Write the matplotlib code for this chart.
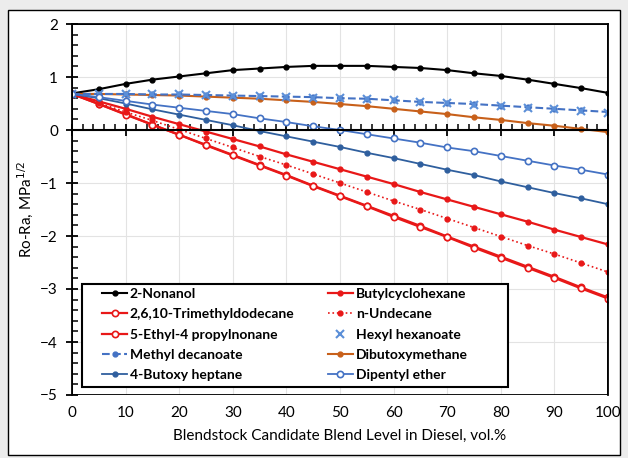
import matplotlib
matplotlib.use("Agg")
import matplotlib.pyplot as plt
from matplotlib.patches import Rectangle
from matplotlib.ticker import MultipleLocator

plt.rcParams['font.family'] = ['Lato', 'DejaVu Sans']

# Blend level, vol.%
blend = [0, 5, 10, 15, 20, 25, 30, 35, 40, 45, 50,
         55, 60, 65, 70, 75, 80, 85, 90, 95, 100]

nonanol = [0.69, 0.77, 0.87, 0.95, 1.01, 1.07, 1.13, 1.16, 1.19, 1.21, 1.21,
           1.21, 1.19, 1.17, 1.13, 1.07, 1.02, 0.95, 0.87, 0.79, 0.70]
butylcyclohexane = [0.68, 0.54, 0.40, 0.25, 0.11, -0.03, -0.17, -0.31, -0.46, -0.60, -0.74,
                    -0.88, -1.02, -1.17, -1.31, -1.45, -1.59, -1.73, -1.88, -2.02, -2.16]
trimethyldodecane = [0.68, 0.49, 0.30, 0.10, -0.09, -0.28, -0.47, -0.66, -0.85, -1.05, -1.24,
                     -1.43, -1.62, -1.81, -2.01, -2.20, -2.39, -2.58, -2.77, -2.97, -3.16]
undecane = [0.68, 0.51, 0.34, 0.18, 0.01, -0.16, -0.33, -0.50, -0.66, -0.83, -1.00,
            -1.17, -1.34, -1.50, -1.67, -1.84, -2.01, -2.18, -2.34, -2.51, -2.68]
ethylpropylnonane = [0.68, 0.49, 0.29, 0.10, -0.09, -0.29, -0.48, -0.67, -0.86, -1.06, -1.25,
                     -1.44, -1.64, -1.83, -2.02, -2.22, -2.41, -2.60, -2.79, -2.99, -3.18]
hexyl_hexanoate = [0.68, 0.68, 0.68, 0.67, 0.67, 0.66, 0.65, 0.64, 0.63, 0.61, 0.60,
                   0.58, 0.56, 0.53, 0.51, 0.48, 0.45, 0.42, 0.39, 0.36, 0.33]
methyl_decanoate = [0.68, 0.68, 0.68, 0.67, 0.67, 0.66, 0.65, 0.64, 0.63, 0.62, 0.60,
                    0.59, 0.56, 0.53, 0.51, 0.49, 0.46, 0.43, 0.40, 0.37, 0.34]
dibutoxymethane = [0.68, 0.68, 0.67, 0.66, 0.65, 0.63, 0.61, 0.59, 0.56, 0.53, 0.49,
                   0.45, 0.40, 0.35, 0.30, 0.24, 0.19, 0.13, 0.08, 0.02, -0.04]
butoxy_heptane = [0.68, 0.60, 0.50, 0.39, 0.29, 0.19, 0.09, -0.02, -0.12, -0.22, -0.32,
                  -0.43, -0.53, -0.64, -0.75, -0.85, -0.97, -1.08, -1.19, -1.29, -1.40]
dipentyl_ether = [0.68, 0.62, 0.55, 0.48, 0.42, 0.36, 0.30, 0.22, 0.15, 0.07, 0.00,
                  -0.08, -0.16, -0.24, -0.33, -0.40, -0.49, -0.58, -0.67, -0.75, -0.84]

RED = '#e81818'
BLUE = '#4472c4'
DBLUE = '#2f5f9e'
ORANGE = '#c8601a'

fig = plt.figure(figsize=(6.28, 4.58), dpi=100, facecolor='#ececec')
# white chart area with black border
fig.patches.append(Rectangle((8 / 628, 3 / 458), 612 / 628, 445 / 458,
                             transform=fig.transFigure, facecolor='white',
                             edgecolor='black', linewidth=1.0, zorder=-10))

ax = fig.add_axes([72 / 628, 63 / 458, 536 / 628, 371 / 458])
ax.set_zorder(1)
ax.set_xlim(0, 100)
ax.set_ylim(-5, 2)
ax.grid(True, color='#e3e3e3', linewidth=0.8, zorder=0)
ax.set_axisbelow(True)

h = {}
h['2-Nonanol'], = ax.plot(blend, nonanol, '-o', color='black', lw=1.5, ms=3.5)
h['2,6,10-Trimethyldodecane'], = ax.plot(blend, trimethyldodecane, '-o', color=RED, lw=1.6,
                                         ms=4.5, mfc='white', mew=1.2)
h['5-Ethyl-4 propylnonane'], = ax.plot(blend, ethylpropylnonane, '-o', color=RED, lw=1.6,
                                       ms=4.5, mfc='white', mew=1.2)
h['Butylcyclohexane'], = ax.plot(blend, butylcyclohexane, '-o', color=RED, lw=1.6, ms=3.5)
h['n-Undecane'], = ax.plot(blend, undecane, ':o', color=RED, lw=1.2, ms=3.5)
h['Dibutoxymethane'], = ax.plot(blend, dibutoxymethane, '-o', color=ORANGE, lw=1.5, ms=3.5)
h['Methyl decanoate'], = ax.plot(blend, methyl_decanoate, '--o', color=BLUE, lw=1.5, ms=3.5)
h['Hexyl hexanoate'], = ax.plot(blend, hexyl_hexanoate, 'x', color='#5b8fd8', ms=5.5, mew=1.5)
h['4-Butoxy heptane'], = ax.plot(blend, butoxy_heptane, '-o', color=DBLUE, lw=1.3, ms=3.5)
h['Dipentyl ether'], = ax.plot(blend, dipentyl_ether, '-o', color=BLUE, lw=1.3, ms=4.5,
                               mfc='white', mew=1.2)

# frame
for s in ['top', 'right', 'left']:
    ax.spines[s].set_linewidth(1.3)
ax.spines['bottom'].set_position(('data', 0))
ax.spines['bottom'].set_linewidth(1.5)
ax.add_patch(Rectangle((0, 0), 1, 1, transform=ax.transAxes, fill=False,
                       edgecolor='black', linewidth=1.3, zorder=5))

ax.xaxis.set_major_locator(MultipleLocator(10))
ax.xaxis.set_minor_locator(MultipleLocator(2))
ax.yaxis.set_major_locator(MultipleLocator(1))
ax.yaxis.set_minor_locator(MultipleLocator(0.2))
ax.tick_params(axis='x', which='major', direction='inout', length=8, width=1.3,
               labelbottom=False)
ax.tick_params(axis='x', which='minor', direction='in', length=4, width=1.1)
ax.tick_params(axis='y', which='major', direction='inout', length=8, width=1.3,
               labelsize=11, pad=6)
ax.tick_params(axis='y', which='minor', direction='in', length=4, width=1.1)

sec = ax.secondary_xaxis(0)
sec.set_xticks(range(0, 101, 10))
sec.tick_params(length=0, labelsize=11, pad=8)
sec.spines['bottom'].set_visible(False)
sec.set_xlabel('Blendstock Candidate Blend Level in Diesel, vol.%', fontsize=11, labelpad=6)

ax.set_ylabel('Ro-Ra, MPa$^{1/2}$', fontsize=11, labelpad=4)

order = ['2-Nonanol', '2,6,10-Trimethyldodecane', '5-Ethyl-4 propylnonane',
         'Methyl decanoate', '4-Butoxy heptane',
         'Butylcyclohexane', 'n-Undecane', 'Hexyl hexanoate',
         'Dibutoxymethane', 'Dipentyl ether']
leg = ax.legend([h[k] for k in order], order, ncol=2, loc='lower left',
                bbox_to_anchor=(0.056, 0.037), frameon=False,
                prop={'weight': 'bold', 'size': 10}, handlelength=1.8,
                handletextpad=0.2, columnspacing=2.4, labelspacing=0.6,
                borderpad=0, borderaxespad=0)
leg.set_zorder(6)
# legend box drawn separately so it can be wider than the entries
ax.add_patch(Rectangle((0.0187, 0.0216), 0.794, 0.277, transform=ax.transAxes,
                       facecolor='white', edgecolor='black', linewidth=1.5, zorder=5.5))

fig.savefig('out.png', dpi=100, facecolor=fig.get_facecolor())
